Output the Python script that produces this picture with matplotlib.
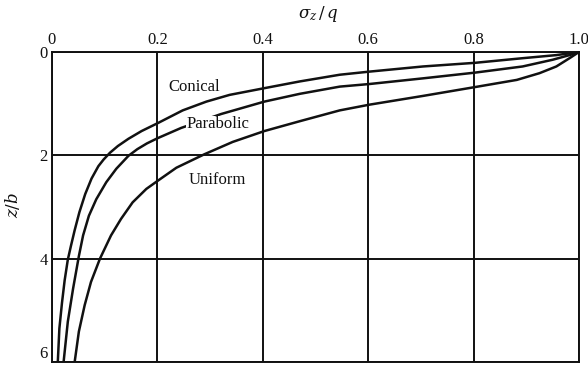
import matplotlib.pyplot as plt

# sigma_z/q (x) vs z/b (y)
conical_x = [1.0, 0.957, 0.893, 0.802, 0.704, 0.602, 0.546, 0.470, 0.403, 0.337, 0.293, 0.248, 0.202,
             0.170, 0.145, 0.125, 0.110, 0.098, 0.088, 0.075, 0.063, 0.052, 0.043, 0.036, 0.030,
             0.024, 0.019, 0.014, 0.011]
conical_z = [0.0, 0.06, 0.12, 0.21, 0.28, 0.38, 0.44, 0.57, 0.70, 0.83, 0.96, 1.13, 1.37,
             1.53, 1.68, 1.82, 1.95, 2.08, 2.21, 2.45, 2.75, 3.10, 3.45, 3.75, 4.02,
             4.42, 4.85, 5.35, 6.0]

parab_x = [1.0, 0.982, 0.950, 0.893, 0.802, 0.704, 0.602, 0.546, 0.470, 0.403, 0.321, 0.245, 0.200,
           0.180, 0.162, 0.145, 0.122, 0.103, 0.084, 0.070, 0.059, 0.051, 0.040, 0.030, 0.022]
parab_z = [0.0, 0.06, 0.15, 0.28, 0.40, 0.51, 0.62, 0.67, 0.81, 0.96, 1.20, 1.47, 1.67,
           1.77, 1.88, 2.01, 2.26, 2.52, 2.85, 3.17, 3.55, 3.95, 4.58, 5.22, 6.0]

unif_x = [1.0, 0.982, 0.957, 0.925, 0.882, 0.802, 0.704, 0.602, 0.546, 0.470, 0.403, 0.343, 0.289,
          0.236, 0.201, 0.179, 0.153, 0.131, 0.112, 0.091, 0.074, 0.062, 0.051, 0.043]
unif_z = [0.0, 0.12, 0.28, 0.41, 0.54, 0.68, 0.85, 1.02, 1.13, 1.34, 1.53, 1.74, 1.98,
          2.24, 2.49, 2.65, 2.91, 3.23, 3.55, 4.0, 4.45, 4.9, 5.41, 6.0]

x_ticks = [0, 0.2, 0.4, 0.6, 0.8, 1.0]
x_ticklabels = ["0", "0.2", "0.4", "0.6", "0.8", "1.0"]
y_ticks = [0, 2, 4, 6]
y_ticklabels = ["0", "2", "4", "6"]

labels = ["Conical", "Parabolic", "Uniform"]
label_pos = [(0.269, 0.68), (0.315, 1.40), (0.313, 2.48)]

plt.rcParams['font.family'] = ['Liberation Serif', 'DejaVu Serif']
ink = '#111111'

fig = plt.figure(figsize=(5.88, 3.68), dpi=100)
ax = fig.add_axes([52/588, 1-362/368, (579-52)/588, (362-52)/368])

ax.set_xlim(0, 1.0)
ax.set_ylim(6, 0)

for v in x_ticks:
    ax.axvline(v, color=ink, lw=1.4, zorder=1)
for v in y_ticks:
    ax.axhline(v, color=ink, lw=1.4, zorder=1)

for xs, zs in [(conical_x, conical_z), (parab_x, parab_z), (unif_x, unif_z)]:
    ax.plot(xs, zs, color=ink, lw=1.8, zorder=2, solid_joinstyle='round', solid_capstyle='round')

for lab, (lx, lz) in zip(labels, label_pos):
    ax.text(lx, lz, lab, ha='center', va='center', fontsize=12, color=ink, zorder=3,
            bbox=dict(facecolor='white', edgecolor='none', pad=0.5))

ax.xaxis.tick_top()
ax.set_xticks(x_ticks)
ax.set_xticklabels(x_ticklabels)
ax.set_yticks(y_ticks)
ax.set_yticklabels(y_ticklabels)
ax.tick_params(length=0, labelsize=12, colors=ink, pad=3)
ax.get_yticklabels()[-1].set_verticalalignment('bottom')
for sp in ax.spines.values():
    sp.set_linewidth(1.4)
    sp.set_color(ink)

fig.text(318/588, 1-14/368, r'$\sigma_z\,/\,q$', ha='center', va='center', fontsize=12, color=ink,
         math_fontfamily='dejavuserif')
fig.text(12/588, 1-205/368, r'$z/b$', ha='center', va='center', rotation=90, fontsize=12, color=ink,
         math_fontfamily='dejavuserif')

fig.savefig('out.png', dpi=100, facecolor='white')
